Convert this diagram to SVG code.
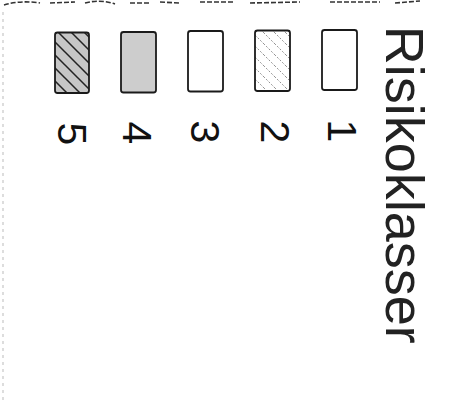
<svg xmlns="http://www.w3.org/2000/svg" width="457" height="418" viewBox="0 0 457 418">
  <style>
    .box { stroke: #1a1a1a; stroke-width: 1.8; }
    .num { font-family: "Liberation Sans", Arial, sans-serif; font-size: 41px; fill: #111; text-anchor: middle; }
    .title { font-family: "Liberation Sans", Arial, sans-serif; font-size: 54px; fill: #222; }
  </style>
  <defs>
    <pattern id="hatch5" patternUnits="userSpaceOnUse" width="13" height="13">
      <rect width="13" height="13" fill="#c6c6c6"/>
      <path d="M-3,-3 L16,16 M-3,10 L3,16 M10,-3 L16,3" stroke="#222" stroke-width="1.5"/>
    </pattern>
    <pattern id="hatch2" patternUnits="userSpaceOnUse" width="11" height="11">
      <rect width="11" height="11" fill="#fff"/>
      <path d="M-3,-3 L14,14 M-3,8 L3,14 M8,-3 L14,3" stroke="#777" stroke-width="0.8" stroke-dasharray="2 1.6"/>
    </pattern>
  </defs>
  <rect width="457" height="418" fill="#fff"/>
  <!-- scan edges -->
  <path d="M3,12 L3,400" fill="none" stroke="#bbb" stroke-width="1" stroke-dasharray="3 4"/>
  <path d="M4,5 Q20,0 40,3 M50,3 L75,2 M85,3 Q100,-1 115,4 M130,3 L150,3 M160,2 L180,3 M200,2 L235,2 M250,3 L300,2 M330,2 L380,2 M395,3 L420,1" fill="none" stroke="#333" stroke-width="1.6" stroke-dasharray="5 2"/>

  <g id="title">
    <text class="title" transform="translate(386,25.7) rotate(90)">Risikoklasser</text>
  </g>
  <g id="class1">
    <rect class="box" x="322" y="30" width="35" height="60" rx="2.5" fill="#fff"/>
    <text class="num" transform="translate(328,131) rotate(90)">1</text>
  </g>
  <g id="class2">
    <rect class="box" x="255" y="30.5" width="35" height="60.5" rx="2.5" fill="url(#hatch2)"/>
    <text class="num" transform="translate(261,132) rotate(90)">2</text>
  </g>
  <g id="class3">
    <rect class="box" x="188" y="31" width="35" height="60.5" rx="2.5" fill="#fff"/>
    <text class="num" transform="translate(191,132) rotate(90)">3</text>
  </g>
  <g id="class4">
    <rect class="box" x="121" y="32" width="35" height="60.5" rx="2.5" fill="#cdcdcd"/>
    <text class="num" transform="translate(123,133) rotate(90)">4</text>
  </g>
  <g id="class5">
    <rect class="box" x="55" y="32.5" width="34" height="60.5" rx="2.5" fill="url(#hatch5)"/>
    <text class="num" transform="translate(58,134) rotate(90)">5</text>
  </g>
</svg>
